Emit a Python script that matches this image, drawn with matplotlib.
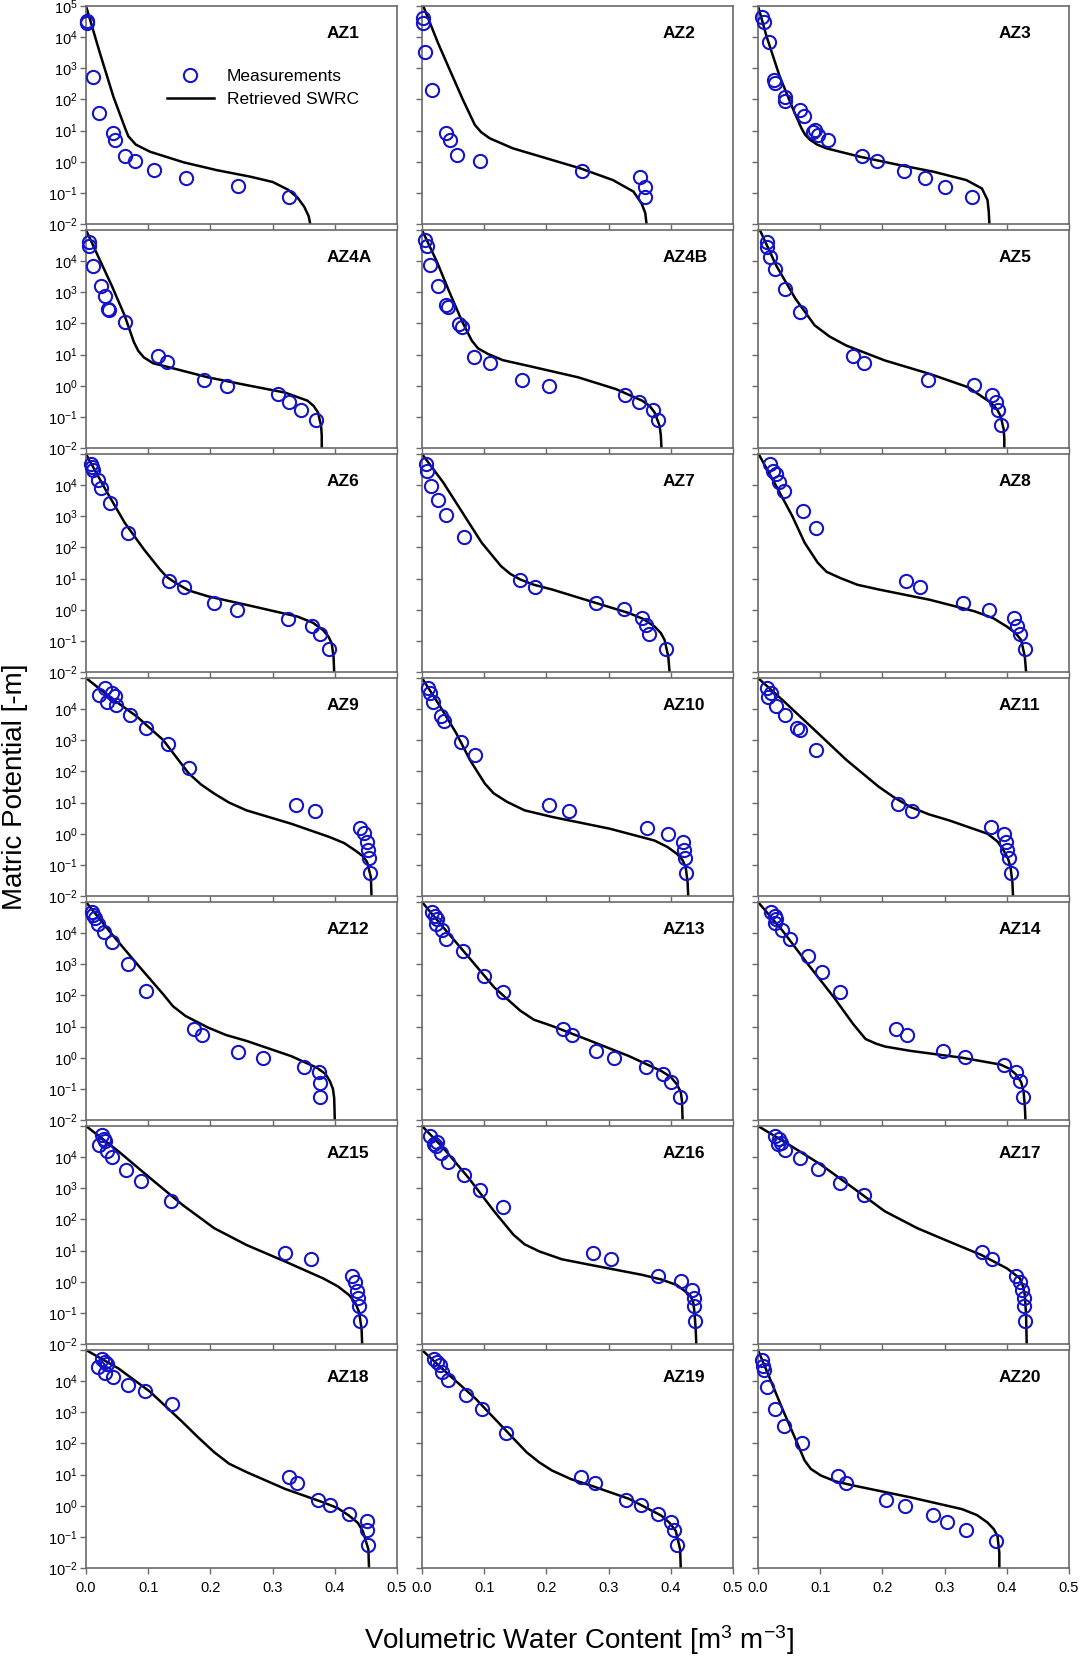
import numpy as np
import matplotlib
matplotlib.use('Agg')
import matplotlib.pyplot as plt
from matplotlib.ticker import FixedLocator, FixedFormatter, FormatStrFormatter

plt.rcParams['font.family'] = ['Liberation Sans', 'DejaVu Sans']
plt.rcParams['mathtext.default'] = 'regular'

# site names, one panel each (row by row)
sites = ['AZ1', 'AZ2', 'AZ3', 'AZ4A', 'AZ4B', 'AZ5', 'AZ6', 'AZ7', 'AZ8', 'AZ9', 'AZ10',
         'AZ11', 'AZ12', 'AZ13', 'AZ14', 'AZ15', 'AZ16', 'AZ17', 'AZ18', 'AZ19', 'AZ20']

# measured volumetric water content [m3 m-3]
meas_theta = [
    [0.002, 0.002, 0.012, 0.021, 0.044, 0.046, 0.063, 0.078, 0.109, 0.160, 0.244, 0.326],
    [0.002, 0.002, 0.005, 0.016, 0.038, 0.045, 0.057, 0.094, 0.258, 0.351, 0.359, 0.359],
    [0.006, 0.009, 0.017, 0.026, 0.027, 0.044, 0.044, 0.068, 0.074, 0.089, 0.092, 0.097, 0.112,
     0.167, 0.192, 0.235, 0.268, 0.300, 0.344],
    [0.005, 0.005, 0.012, 0.024, 0.031, 0.035, 0.037, 0.062, 0.116, 0.131, 0.190, 0.226, 0.309,
     0.327, 0.345, 0.369],
    [0.005, 0.008, 0.013, 0.026, 0.039, 0.041, 0.060, 0.065, 0.084, 0.109, 0.160, 0.204, 0.327,
     0.349, 0.372, 0.379],
    [0.015, 0.015, 0.019, 0.027, 0.044, 0.068, 0.153, 0.171, 0.274, 0.348, 0.376, 0.382, 0.386, 0.390],
    [0.008, 0.010, 0.012, 0.019, 0.024, 0.039, 0.067, 0.134, 0.157, 0.206, 0.242, 0.325, 0.363,
     0.376, 0.390],
    [0.006, 0.008, 0.014, 0.025, 0.039, 0.068, 0.158, 0.181, 0.280, 0.325, 0.354, 0.360, 0.365, 0.393],
    [0.019, 0.024, 0.029, 0.034, 0.042, 0.072, 0.093, 0.238, 0.261, 0.330, 0.371, 0.412, 0.416,
     0.421, 0.429],
    [0.031, 0.021, 0.041, 0.046, 0.033, 0.048, 0.070, 0.096, 0.132, 0.165, 0.337, 0.368, 0.441,
     0.447, 0.451, 0.453, 0.455, 0.456],
    [0.010, 0.013, 0.017, 0.030, 0.036, 0.063, 0.085, 0.204, 0.236, 0.361, 0.395, 0.419, 0.421,
     0.423, 0.425],
    [0.015, 0.021, 0.016, 0.029, 0.044, 0.063, 0.068, 0.094, 0.225, 0.247, 0.374, 0.395, 0.398,
     0.401, 0.403, 0.406],
    [0.010, 0.012, 0.015, 0.019, 0.029, 0.041, 0.067, 0.096, 0.173, 0.186, 0.245, 0.284, 0.351,
     0.374, 0.376, 0.376],
    [0.016, 0.021, 0.024, 0.022, 0.032, 0.039, 0.066, 0.099, 0.130, 0.227, 0.241, 0.279, 0.308,
     0.360, 0.387, 0.400, 0.415],
    [0.021, 0.027, 0.029, 0.027, 0.039, 0.052, 0.080, 0.103, 0.132, 0.222, 0.240, 0.297, 0.333,
     0.395, 0.415, 0.421, 0.426],
    [0.026, 0.029, 0.031, 0.021, 0.033, 0.041, 0.065, 0.088, 0.136, 0.320, 0.361, 0.428, 0.433,
     0.436, 0.438, 0.439, 0.441],
    [0.013, 0.019, 0.024, 0.022, 0.031, 0.042, 0.067, 0.094, 0.130, 0.275, 0.304, 0.379, 0.417,
     0.434, 0.437, 0.438, 0.439],
    [0.027, 0.034, 0.037, 0.032, 0.044, 0.068, 0.096, 0.132, 0.171, 0.360, 0.376, 0.415, 0.421,
     0.424, 0.427, 0.428, 0.430],
    [0.026, 0.031, 0.033, 0.019, 0.031, 0.044, 0.067, 0.095, 0.139, 0.327, 0.340, 0.373, 0.392,
     0.423, 0.451, 0.452, 0.453],
    [0.019, 0.024, 0.029, 0.032, 0.042, 0.071, 0.096, 0.135, 0.256, 0.278, 0.328, 0.352, 0.379,
     0.400, 0.405, 0.410],
    [0.006, 0.008, 0.010, 0.015, 0.027, 0.042, 0.070, 0.128, 0.142, 0.206, 0.237, 0.281, 0.304,
     0.334, 0.382],
]

# measured matric potential, log10 of [-m]
meas_log_h = [
    [4.53, 4.47, 2.71, 1.55, 0.91, 0.70, 0.19, 0.01, -0.28, -0.51, -0.79, -1.12],
    [4.60, 4.46, 3.51, 2.30, 0.91, 0.70, 0.20, 0.01, -0.29, -0.50, -0.80, -1.12],
    [4.64, 4.50, 3.83, 2.62, 2.54, 2.09, 1.96, 1.66, 1.48, 0.96, 1.02, 0.86, 0.70,
     0.19, 0.01, -0.29, -0.51, -0.80, -1.12],
    [4.62, 4.49, 3.85, 3.19, 2.87, 2.47, 2.42, 2.04, 0.95, 0.75, 0.19, 0.0, -0.27, -0.52, -0.78, -1.11],
    [4.68, 4.49, 3.89, 3.20, 2.58, 2.52, 1.99, 1.88, 0.91, 0.73, 0.19, 0.0, -0.29, -0.52, -0.78, -1.11],
    [4.60, 4.46, 4.12, 3.76, 3.09, 2.37, 0.94, 0.73, 0.19, 0.02, -0.29, -0.52, -0.78, -1.27],
    [4.68, 4.57, 4.49, 4.17, 3.92, 3.44, 2.47, 0.91, 0.72, 0.22, 0.0, -0.30, -0.52, -0.78, -1.27],
    [4.68, 4.46, 3.96, 3.53, 3.03, 2.34, 0.94, 0.72, 0.22, 0.02, -0.25, -0.48, -0.78, -1.27],
    [4.68, 4.46, 4.35, 4.09, 3.82, 3.17, 2.61, 0.91, 0.73, 0.22, 0.0, -0.27, -0.52, -0.78, -1.27],
    [4.68, 4.46, 4.52, 4.43, 4.22, 4.12, 3.80, 3.39, 2.88, 2.10, 0.91, 0.73, 0.19, 0.02, -0.27,
     -0.52, -0.78, -1.27],
    [4.68, 4.52, 4.22, 3.78, 3.62, 2.96, 2.53, 0.91, 0.72, 0.19, 0.0, -0.27, -0.52, -0.78, -1.27],
    [4.68, 4.52, 4.39, 4.11, 3.82, 3.39, 3.33, 2.69, 0.94, 0.72, 0.22, 0.0, -0.27, -0.52, -0.78, -1.27],
    [4.68, 4.57, 4.49, 4.30, 4.05, 3.73, 3.01, 2.15, 0.91, 0.72, 0.19, 0.0, -0.29, -0.46, -0.81, -1.27],
    [4.68, 4.54, 4.46, 4.30, 4.09, 3.82, 3.44, 2.63, 2.10, 0.91, 0.72, 0.22, 0.0, -0.29, -0.52,
     -0.78, -1.27],
    [4.68, 4.54, 4.46, 4.32, 4.11, 3.82, 3.28, 2.74, 2.12, 0.91, 0.73, 0.22, 0.02, -0.24, -0.45,
     -0.75, -1.27],
    [4.71, 4.57, 4.52, 4.39, 4.19, 4.00, 3.60, 3.25, 2.60, 0.91, 0.73, 0.19, 0.0, -0.29, -0.52,
     -0.78, -1.27],
    [4.68, 4.43, 4.49, 4.35, 4.12, 3.84, 3.44, 2.94, 2.39, 0.91, 0.73, 0.19, 0.02, -0.25, -0.52,
     -0.78, -1.27],
    [4.68, 4.57, 4.46, 4.41, 4.22, 3.96, 3.63, 3.17, 2.77, 0.94, 0.73, 0.18, 0.0, -0.27, -0.52,
     -0.78, -1.27],
    [4.71, 4.62, 4.54, 4.46, 4.27, 4.12, 3.89, 3.69, 3.25, 0.91, 0.73, 0.19, 0.02, -0.27, -0.48,
     -0.78, -1.27],
    [4.71, 4.60, 4.52, 4.28, 4.03, 3.55, 3.10, 2.34, 0.91, 0.73, 0.19, 0.02, -0.27, -0.52, -0.78, -1.27],
    [4.68, 4.49, 4.35, 3.82, 3.10, 2.56, 2.01, 0.94, 0.73, 0.18, 0.0, -0.29, -0.52, -0.78, -1.13],
]

# retrieved SWRC, points
fit_theta = [
    [0.0, 0.0225, 0.044, 0.063, 0.068, 0.080, 0.103, 0.157, 0.210, 0.264, 0.300, 0.325, 0.340,
     0.351, 0.358, 0.3605],
    [0.002, 0.026, 0.047, 0.066, 0.085, 0.095, 0.109, 0.146, 0.200, 0.254, 0.307, 0.340, 0.353,
     0.359, 0.361],
    [0.0, 0.014, 0.035, 0.057, 0.070, 0.076, 0.084, 0.095, 0.110, 0.164, 0.228, 0.282, 0.335,
     0.360, 0.369, 0.371, 0.372],
    [0.0, 0.021, 0.041, 0.062, 0.077, 0.084, 0.093, 0.108, 0.134, 0.196, 0.258, 0.320, 0.356,
     0.366, 0.373, 0.378, 0.379, 0.379],
    [0.0, 0.024, 0.044, 0.065, 0.080, 0.090, 0.106, 0.130, 0.168, 0.251, 0.312, 0.354, 0.366,
     0.374, 0.382, 0.384, 0.385],
    [0.003, 0.029, 0.060, 0.091, 0.115, 0.142, 0.204, 0.276, 0.338, 0.374, 0.384, 0.390, 0.395,
     0.396, 0.396],
    [0.0, 0.031, 0.062, 0.093, 0.119, 0.130, 0.144, 0.165, 0.196, 0.268, 0.340, 0.365, 0.381,
     0.390, 0.395, 0.398, 0.399],
    [0.0, 0.034, 0.065, 0.096, 0.127, 0.142, 0.158, 0.180, 0.209, 0.271, 0.333, 0.356, 0.374,
     0.384, 0.390, 0.396, 0.398],
    [0.001, 0.029, 0.055, 0.075, 0.096, 0.110, 0.132, 0.160, 0.194, 0.276, 0.348, 0.378, 0.400,
     0.414, 0.423, 0.429, 0.431],
    [0.0, 0.041, 0.082, 0.124, 0.165, 0.185, 0.206, 0.230, 0.258, 0.330, 0.392, 0.415, 0.433,
     0.445, 0.452, 0.458, 0.459],
    [0.0, 0.029, 0.055, 0.077, 0.101, 0.115, 0.137, 0.165, 0.209, 0.302, 0.374, 0.395, 0.410,
     0.419, 0.424, 0.427, 0.428],
    [0.0, 0.039, 0.091, 0.142, 0.194, 0.220, 0.245, 0.275, 0.307, 0.369, 0.385, 0.395, 0.402,
     0.406, 0.409, 0.410],
    [0.0, 0.041, 0.082, 0.124, 0.140, 0.160, 0.196, 0.225, 0.258, 0.330, 0.371, 0.385, 0.392,
     0.397, 0.399, 0.400],
    [0.0, 0.034, 0.075, 0.116, 0.158, 0.180, 0.209, 0.271, 0.333, 0.385, 0.400, 0.410, 0.416,
     0.418, 0.419],
    [0.0, 0.039, 0.080, 0.122, 0.153, 0.173, 0.190, 0.204, 0.245, 0.328, 0.390, 0.405, 0.415,
     0.423, 0.427, 0.429, 0.430],
    [0.0, 0.052, 0.103, 0.155, 0.206, 0.258, 0.320, 0.381, 0.405, 0.423, 0.433, 0.439, 0.443, 0.444],
    [0.0, 0.034, 0.075, 0.116, 0.147, 0.165, 0.189, 0.225, 0.271, 0.354, 0.385, 0.410, 0.431,
     0.436, 0.438, 0.440, 0.441],
    [0.0, 0.049, 0.101, 0.153, 0.204, 0.256, 0.307, 0.359, 0.400, 0.421, 0.426, 0.429, 0.431, 0.432],
    [0.0, 0.052, 0.103, 0.155, 0.180, 0.206, 0.230, 0.258, 0.320, 0.381, 0.405, 0.423, 0.437,
     0.445, 0.454, 0.455],
    [0.0, 0.044, 0.086, 0.127, 0.168, 0.188, 0.209, 0.240, 0.271, 0.333, 0.385, 0.398, 0.408,
     0.415, 0.416],
    [0.0, 0.019, 0.039, 0.060, 0.075, 0.085, 0.101, 0.125, 0.153, 0.245, 0.328, 0.352, 0.369,
     0.379, 0.385, 0.388, 0.388],
]

fit_log_h = [
    [5, 3.48, 2.09, 1.07, 0.82, 0.55, 0.32, -0.02, -0.27, -0.48, -0.65, -0.90, -1.15,
     -1.45, -1.75, -2],
    [5, 3.80, 2.84, 1.98, 1.18, 0.95, 0.75, 0.43, 0.11, -0.21, -0.59, -0.96, -1.34,
     -1.65, -2],
    [5, 4.01, 2.73, 1.66, 1.07, 0.86, 0.70, 0.55, 0.43, 0.16, -0.11, -0.32, -0.59,
     -0.86, -1.23, -1.60, -2],
    [5, 4.09, 3.23, 2.26, 1.40, 1.12, 0.91, 0.72, 0.59, 0.27, 0.02, -0.22, -0.48,
     -0.65, -0.86, -1.29, -1.60, -2],
    [5, 3.98, 3.01, 2.04, 1.45, 1.20, 1.02, 0.82, 0.65, 0.27, -0.11, -0.48, -0.65,
     -0.86, -1.29, -1.60, -2],
    [5, 3.87, 2.80, 1.94, 1.58, 1.29, 0.81, 0.38, -0.05, -0.54, -0.75, -0.97, -1.40,
     -1.70, -2],
    [5, 3.87, 2.80, 1.94, 1.29, 1.05, 0.86, 0.62, 0.43, 0.11, -0.22, -0.42, -0.65,
     -0.87, -1.08, -1.51, -2],
    [5, 4.09, 3.12, 2.15, 1.40, 1.15, 0.97, 0.80, 0.65, 0.27, -0.11, -0.30, -0.54,
     -0.75, -0.97, -1.51, -2],
    [5, 3.98, 3.01, 2.15, 1.51, 1.22, 1.02, 0.80, 0.65, 0.32, -0.05, -0.27, -0.54,
     -0.75, -0.97, -1.51, -2],
    [5, 4.35, 3.76, 3.01, 1.94, 1.58, 1.29, 1.00, 0.75, 0.32, -0.11, -0.30, -0.54,
     -0.72, -0.91, -1.40, -2],
    [5, 4.09, 3.23, 2.37, 1.61, 1.30, 1.02, 0.75, 0.54, 0.16, -0.22, -0.43, -0.65,
     -0.85, -1.08, -1.56, -2],
    [5, 4.30, 3.33, 2.37, 1.51, 1.15, 0.86, 0.62, 0.43, 0.0, -0.25, -0.54, -0.80,
     -1.08, -1.56, -2],
    [5, 3.98, 3.01, 2.04, 1.65, 1.34, 0.97, 0.73, 0.54, 0.05, -0.32, -0.52, -0.75,
     -1.00, -1.29, -2],
    [5, 4.19, 3.23, 2.26, 1.51, 1.22, 1.02, 0.54, 0.05, -0.43, -0.62, -0.86, -1.10,
     -1.40, -2],
    [5, 4.09, 3.01, 1.94, 1.08, 0.60, 0.45, 0.36, 0.22, 0.0, -0.22, -0.36, -0.54,
     -0.78, -1.08, -1.56, -2],
    [5, 4.19, 3.33, 2.47, 1.72, 1.18, 0.65, 0.11, -0.15, -0.43, -0.68, -0.97, -1.51, -2],
    [5, 4.30, 3.33, 2.26, 1.51, 1.20, 0.97, 0.72, 0.54, 0.22, 0.07, -0.11, -0.43,
     -0.65, -0.97, -1.51, -2],
    [5, 4.41, 3.76, 3.01, 2.26, 1.72, 1.29, 0.86, 0.43, 0.11, -0.15, -0.43, -1.08, -2],
    [5, 4.41, 3.66, 2.69, 2.20, 1.72, 1.35, 1.08, 0.54, 0.11, -0.08, -0.32, -0.55,
     -0.81, -1.40, -2],
    [5, 4.19, 3.44, 2.58, 1.72, 1.40, 1.13, 0.85, 0.65, 0.22, -0.32, -0.55, -0.81,
     -1.40, -2],
    [5, 4.09, 3.12, 2.15, 1.45, 1.18, 0.97, 0.78, 0.65, 0.27, -0.11, -0.30, -0.54,
     -0.75, -0.97, -1.51, -2],
]

y_ticks = [1e-2, 1e-1, 1e0, 1e1, 1e2, 1e3, 1e4, 1e5]
y_tick_labels = ['$10^{-2}$', '$10^{-1}$', '$10^{0}$', '$10^{1}$', '$10^{2}$', '$10^{3}$',
                 '$10^{4}$', '$10^{5}$']
x_ticks = [0.0, 0.1, 0.2, 0.3, 0.4, 0.5]

W, H = 1080, 1660
fig = plt.figure(figsize=(W / 100, H / 100), dpi=100)

col_left = [86, 422, 758]
ax_w, ax_h = 311, 218
row_top0, row_step = 6, 224
marker_color = '#1414c8'
spine_color = '#6a6a6a'

for i, name in enumerate(sites):
    r, c = divmod(i, 3)
    top = row_top0 + r * row_step
    ax = fig.add_axes([col_left[c] / W, 1 - (top + ax_h) / H, ax_w / W, ax_h / H])

    ax.plot(fit_theta[i], 10 ** np.array(fit_log_h[i]), color='black', lw=1.8,
            solid_joinstyle='round', label='Retrieved SWRC', zorder=2)
    ax.plot(meas_theta[i], 10 ** np.array(meas_log_h[i]), 'o', ms=9.5, mfc='none',
            mec=marker_color, mew=1.5, clip_on=False, label='Measurements', zorder=3)

    ax.set_yscale('log')
    ax.set_ylim(1e-2, 1e5)
    ax.set_xlim(0, 0.5)
    ax.yaxis.set_major_locator(FixedLocator(y_ticks))
    ax.yaxis.set_minor_locator(FixedLocator([]))
    ax.xaxis.set_major_locator(FixedLocator(x_ticks))

    if c == 0:
        labels = list(y_tick_labels)
        if r > 0:
            labels[-1] = ''
        ax.yaxis.set_major_formatter(FixedFormatter(labels))
    else:
        ax.set_yticklabels([])
    if r == 6:
        ax.xaxis.set_major_formatter(FormatStrFormatter('%.1f'))
    else:
        ax.set_xticklabels([])

    ax.tick_params(direction='out', length=4, width=1, color=spine_color, labelsize=10.5, pad=2)
    ax.tick_params(axis='x', pad=5)
    for s in ax.spines.values():
        s.set_color(spine_color)
        s.set_linewidth(1.2)

    ax.text(0.775, 0.875, name, transform=ax.transAxes, fontsize=12.5, fontweight='bold',
            ha='left', va='center')

    if i == 0:
        h_line, h_pts = ax.get_legend_handles_labels()[0]
        ax.legend([h_pts, h_line], ['Measurements', 'Retrieved SWRC'], loc='upper left',
                  bbox_to_anchor=(0.26, 0.71), frameon=False, fontsize=12.5,
                  handlelength=2.7, handletextpad=0.75, labelspacing=0.45,
                  borderpad=0, borderaxespad=0)

fig.text(0.014, 0.526, 'Matric Potential [-m]', rotation=90, ha='center', va='center',
         fontsize=20)
fig.text(0.536, 0.012, 'Volumetric Water Content [m$^3$ m$^{-3}$]', ha='center', va='center',
         fontsize=20)

fig.savefig('out.png', dpi=100)
